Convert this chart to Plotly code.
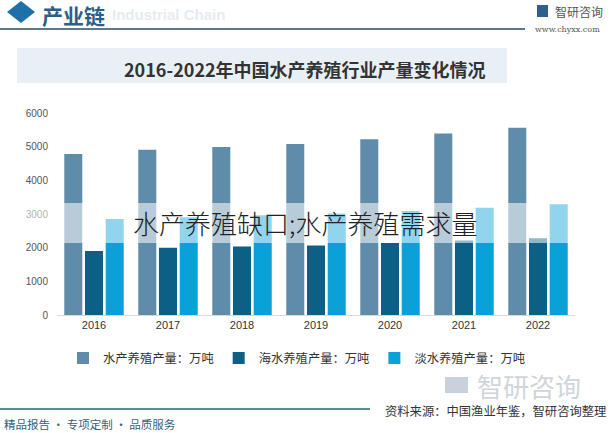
import plotly.graph_objects as go

years = ["2016", "2017", "2018", "2019", "2020", "2021", "2022"]
total = [4780, 4906, 4991, 5079, 5224, 5394, 5565]
marine = [1900, 2001, 2031, 2065, 2135, 2211, 2276]
fresh = [2850, 2905, 2960, 3014, 3089, 3183, 3290]
names = ["水产养殖产量：万吨", "海水养殖产量：万吨", "淡水养殖产量：万吨"]
colors = ["#5f8ca8", "#0c5f85", "#0aa0d8"]

W, H = 610, 433
L, R, T, B = 57, 35, 113, 118
pw, ph = W - L - R, H - T - B


def px(x):
    return (x - L) / pw


def py(y):
    return (H - B - y) / ph


FONT = "Noto Sans CJK SC"

fig = go.Figure()
for vals, nm, c in zip([total, marine, fresh], names, colors):
    fig.add_trace(go.Bar(x=years, y=vals, name=nm, marker=dict(color=c, line=dict(width=0))))

shapes = [
    dict(type="line", xref="paper", yref="paper", x0=px(0), x1=px(525), y0=py(29), y1=py(29),
         line=dict(color="#2b4a5f", width=1.5)),
    dict(type="path", xref="paper", yref="paper",
         path=f"M {px(7)} {py(12)} L {px(21)} {py(1)} L {px(35)} {py(12)} L {px(21)} {py(23)} Z",
         fillcolor="#1f6fa8", line=dict(width=0)),
    dict(type="rect", xref="paper", yref="paper", x0=px(17), x1=px(507), y0=py(83), y1=py(48),
         fillcolor="#e9f0f5", line=dict(width=0), layer="below"),
    dict(type="rect", xref="paper", yref="paper", x0=px(537), x1=px(548), y0=py(17), y1=py(5),
         fillcolor="#2f5f8f", line=dict(width=0)),
    dict(type="line", xref="paper", yref="paper", x0=px(0), x1=px(370), y0=py(409), y1=py(409),
         line=dict(color="#5b8c98", width=2)),
    dict(type="rect", xref="paper", yref="paper", x0=px(445), x1=px(468), y0=py(393), y1=py(377),
         fillcolor="#c9d2dc", line=dict(width=0)),
    dict(type="rect", xref="paper", yref="paper", x0=px(0), x1=px(610), y0=py(243), y1=py(203),
         fillcolor="rgba(255,255,255,0.55)", line=dict(width=0), layer="above"),
]


def A(text, x, y, xa, size, color, family=FONT, weight="normal", angle=0, pad=1):
    return dict(text=text, x=px(x), y=py(y), xref="paper", yref="paper", xanchor=xa,
                yanchor="middle", showarrow=False, textangle=angle, borderpad=pad,
                font=dict(family=family, size=size, color=color, weight=weight))


ann = [
    A("Industrial Chain", 110, 14, "left", 15, "#e6ebef", family="Liberation Sans", weight="bold"),
    A("产业链", 41, 15, "left", 21, "#2d5f86", weight="bold", pad=0),
    A("智研咨询", 553, 11, "left", 12, "#555555"),
    A("www.chyxx.com", 533, 29, "left", 8, "#555555", family="DejaVu Serif"),
    A("2016-2022年中国水产养殖行业产量变化情况", 305, 69, "center", 18, "#333333", weight="bold"),
    A("智研咨询", 475, 385, "left", 26, "#d0d5da"),
    A("资料来源：中国渔业年鉴，智研咨询整理", 608, 411, "right", 12.3, "#333333"),
    A("精品报告 · 专项定制 · 品质服务", 2, 424, "left", 11.5, "#3a5f7a"),
    A("水产养殖缺口;水产养殖需求量", 305, 222, "center", 26, "#222222", weight=300),
]

fig.update_layout(
    width=W, height=H, margin=dict(l=L, r=R, t=T, b=B),
    paper_bgcolor="white", plot_bgcolor="white",
    barmode="group", bargap=0.16, bargroupgap=0.13,
    font=dict(family=FONT, color="#333333"),
    shapes=shapes, annotations=ann,
    showlegend=True,
    legend=dict(orientation="h", x=px(63), xanchor="left", y=py(358), yanchor="middle",
                font=dict(family=FONT, size=12.3, color="#333333"),
                itemwidth=30, bgcolor="rgba(0,0,0,0)"),
    xaxis=dict(showgrid=False, showline=True, linecolor="#d9d9d9", linewidth=1,
               tickfont=dict(family="Liberation Sans", size=11, color="#333333"),
               ticks="", fixedrange=True),
    yaxis=dict(range=[0, 6000], tickvals=[0, 1000, 2000, 3000, 4000, 5000, 6000],
               showgrid=False, zeroline=False, showline=False,
               tickfont=dict(family="Liberation Sans", size=10, color="#555555"),
               ticklabelstandoff=8, fixedrange=True),
)

fig.write_html("out.html", config={"displayModeBar": False},
               post_script="document.body.style.margin='0';")
